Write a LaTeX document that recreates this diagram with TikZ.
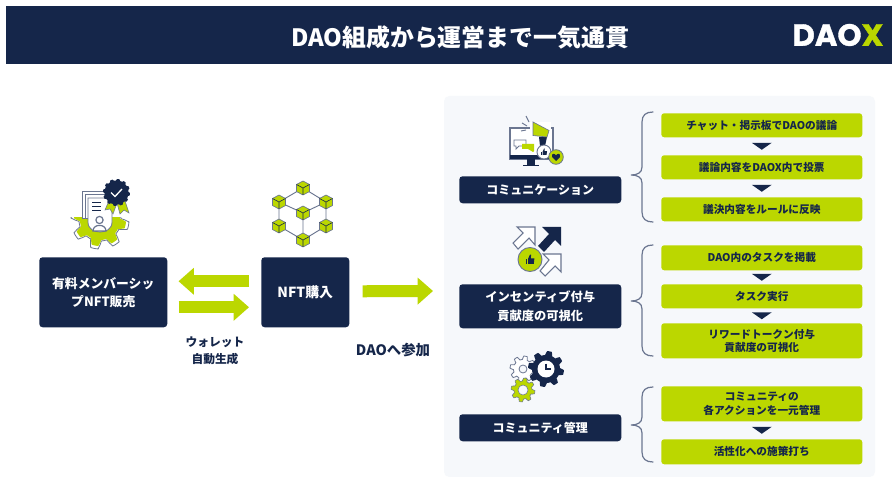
\documentclass[tikz,border=0pt]{standalone}
\usepackage{fontspec}
\setmainfont{Noto Sans CJK JP}
\newfontfamily\logofont[BoldFeatures={FakeBold=1.2}]{Poppins}
\usetikzlibrary{arrows.meta,calc}
\definecolor{navy}{HTML}{15264A}
\definecolor{lime}{HTML}{BBD700}
\definecolor{panelbg}{HTML}{F6F8FB}
\definecolor{edgegrey}{HTML}{6B7690}
\tikzset{
  x=0.75pt,y=-0.75pt,
  darkbox/.style={fill=navy,rounded corners=2.5pt,text=white,font=\bfseries,align=center,inner sep=0pt,anchor=north west},
  limebox/.style={fill=lime,rounded corners=2.2pt,text=navy,font=\bfseries\fontsize{8}{10.2}\selectfont,align=center,inner sep=0pt,anchor=north west,minimum width=150.75pt},
  blockarrow/.style={draw=lime,line width=9pt,-{Triangle[length=11.5pt,width=19.5pt,fill=lime]}},
  capt/.style={text=navy,font=\bfseries\fontsize{8.8}{13}\selectfont,align=center,inner sep=0pt},
  bracket/.style={draw=edgegrey,line width=0.9pt,line cap=round},
  iconline/.style={draw=edgegrey,line width=0.6pt},
  link/.style={draw=edgegrey,line width=0.7pt}
}
\newcommand{\boxat}[6]{\node[#1,minimum width=#4*0.75pt,minimum height=#5*0.75pt] (#2) at (#3) {#6};}
\newcommand{\tridown}[2]{\path ($(#1.south)!.5!(#2.north)$) coordinate (tm);
  \fill[navy] ($(tm)+(-10,-3.5)$) -- ($(tm)+(10,-3.5)$) -- ($(tm)+(0,3.5)$) -- cycle;}
\newcommand{\bracketpath}[3]{\draw[bracket] (653,#1) .. controls (646,#1) and (642,#1+3) .. (642,#1+10) -- (642,#2-8) .. controls (642,#2-2) and (637,#2) .. (631,#2) .. controls (637,#2) and (642,#2+2) .. (642,#2+8) -- (642,#3-10) .. controls (642,#3-3) and (646,#3) .. (653,#3);}
% gear: cx cy ro ri teeth drawopts
\newcommand{\gearshape}[6]{\path[#6] plot[domain=0:360,samples=#5*12+1,variable=\t] ({#1+(#4+(#3-#4)*(0.5+0.5*max(-1,min(1,2.5*sin(#5*\t)))))*cos(\t)},{#2+(#4+(#3-#4)*(0.5+0.5*max(-1,min(1,2.5*sin(#5*\t)))))*sin(\t)}) -- cycle;}
\newcommand{\thumb}[3]{\begin{scope}[shift={(#1,#2)},scale=#3]
  \fill[navy] (-4,-0.5) rectangle (-2.4,4);
  \fill[navy] (-1.8,-0.5) -- (0,-4.5) -- (1,-4.5) -- (0.8,-1) -- (4,-1) -- (3.4,4) -- (-1.8,4) -- cycle;
\end{scope}}
\newcommand{\cube}[2]{\begin{scope}[shift={(#1,#2)}]
  \filldraw[fill=lime,draw=edgegrey,line width=0.5pt] (0,-7) -- (6.5,-3.5) -- (6.5,3.5) -- (0,7) -- (-6.5,3.5) -- (-6.5,-3.5) -- cycle;
  \draw[navy,line width=0.45pt] (-6.5,-3.5) -- (0,0) -- (6.5,-3.5) (0,0) -- (0,7);
\end{scope}}
\begin{document}
\begin{tikzpicture}
\useasboundingbox (0,0) rectangle (892,477);
\fill[white] (0,0) rectangle (892,477);
% header
\fill[navy] (6,6) rectangle (892,64);
\node[text=white,font=\bfseries\fontsize{17.9}{20}\selectfont,inner sep=0pt] (title) at (460,37) {DAO組成から運営まで一気通貫};
\node[text=white,font=\logofont\bfseries\fontsize{23}{24}\selectfont,inner sep=0pt,anchor=center] (logo) at (838,35) {DAO\textcolor{lime}{X}};
% panel
\fill[panelbg,rounded corners=4pt] (444,96) rectangle (875,477);
% left boxes
\boxat{darkbox,font=\bfseries\fontsize{9.6}{13.5}\selectfont}{sale}{39,257}{128}{70}{有料メンバーシッ\\プNFT販売}
\boxat{darkbox,font=\bfseries\fontsize{10.4}{15}\selectfont}{nft}{261,257}{88}{70}{NFT購入}
\draw[blockarrow] ([xshift=-9pt,yshift=8.25pt]nft.west) -- ([xshift=8.25pt,yshift=8.25pt]sale.east);
\draw[blockarrow] ([xshift=8.25pt,yshift=-11.25pt]sale.east) -- ([xshift=-9pt,yshift=-11.25pt]nft.west);
\node[capt] (wallet) at (215,351) {ウォレット\\自動生成};
\coordinate (jointip) at (433,291);
\draw[blockarrow] ([xshift=9.75pt,yshift=0.75pt]nft.east) -- (jointip);
\node[capt,font=\bfseries\fontsize{10.8}{13}\selectfont] (join) at (393,350) {DAOへ参加};
% right label boxes
\boxat{darkbox,font=\bfseries\fontsize{9}{14}\selectfont}{comm}{459,176}{162}{27}{コミュニケーション}
\boxat{darkbox,font=\bfseries\fontsize{9.2}{14.5}\selectfont}{incent}{459,284}{162}{44}{インセンティブ付与\\貢献度の可視化}
\boxat{darkbox,font=\bfseries\fontsize{9}{14}\selectfont}{manage}{459,414}{162}{27}{コミュニティ管理}
% brackets
\bracketpath{112}{175}{222}
\bracketpath{245}{301}{356}
\bracketpath{387}{425}{462}
% lime boxes
\boxat{limebox}{a1}{661,113}{201}{24}{チャット・掲示板でDAOの議論}
\boxat{limebox}{a2}{661,155}{201}{24}{議論内容をDAOX内で投票}
\boxat{limebox}{a3}{661,197}{201}{24}{議決内容をルールに反映}
\boxat{limebox}{b1}{661,245}{201}{25}{DAO内のタスクを掲載}
\boxat{limebox}{b2}{661,284}{201}{24}{タスク実行}
\boxat{limebox}{b3}{661,323}{201}{35}{リワードトークン付与\\貢献度の可視化}
\boxat{limebox}{c1}{661,386}{201}{35}{コミュニティの\\各アクションを一元管理}
\boxat{limebox}{c2}{661,439}{201}{25}{活性化への施策打ち}
\tridown{a1}{a2}\tridown{a2}{a3}
\tridown{b1}{b2}\tridown{b2}{b3}
\tridown{c1}{c2}
% certificate icon
\begin{scope}
  \clip (60,218) rectangle (140,250);
  \gearshape{100}{220}{29}{21}{8}{fill=white,draw=edgegrey,line width=0.6pt}
  \gearshape{100}{220}{26}{20}{8}{fill=lime}
\end{scope}
\draw[iconline,fill=white] (82,191) rectangle (106,218);
\draw[iconline,fill=white] (85,194) rectangle (108,218);
\draw[iconline,fill=white] (88,198) -- (112,198) -- (112,222) .. controls (112,229) and (106,232) .. (100,232) .. controls (94,232) and (88,229) .. (88,222) -- cycle;
\draw[navy,line width=0.6pt] (92,202) -- (101,202) (92,206) -- (101,206) (92,210) -- (101,210);
\draw[edgegrey,line width=0.9pt,fill=white] (99.5,220) circle (3.6);
\draw[edgegrey,line width=0.9pt,fill=white] (93,231) .. controls (93,223.5) and (106,223.5) .. (106,231) -- cycle;
\filldraw[fill=lime,draw=edgegrey,line width=0.4pt] (108,203) -- (117,203) -- (113,214) -- (110,209) -- (105,210) -- cycle;
\filldraw[fill=lime,draw=edgegrey,line width=0.4pt] (117,203) -- (125,201) -- (129,213) -- (124,210) -- (120,214) -- cycle;
\gearshape{116.5}{192.5}{13.5}{12}{12}{fill=navy}
\draw[white,line width=1pt] (111,192.5) -- (115,196.5) -- (122,189);
% network icon
\path coordinate (n1) at (303,188) coordinate (n2) at (279,202) coordinate (n3) at (326,202)
  coordinate (n4) at (303,213) coordinate (n5) at (279,226) coordinate (n6) at (326,226) coordinate (n7) at (303,240);
\draw[link] (n1)--(n2)--(n5)--(n7)--(n6)--(n3)--(n1) (n2)--(n4)--(n3) (n4)--(n7);
\cube{303}{188}\cube{279}{202}\cube{326}{202}\cube{303}{213}\cube{279}{226}\cube{326}{226}\cube{303}{240}
% monitor icon
\draw[iconline,line width=0.8pt,fill=white] (510,128) rectangle (553,159);
\fill[navy] (510,155) rectangle (553,159);
\fill[navy] (527,159) rectangle (535,165);
\fill[navy] (523,165) rectangle (539,166.5);
\fill[white] (530,122) rectangle (551,140);
\fill[navy] (539,137) -- (547,137) -- (545,146) -- (540,146) -- cycle;
\filldraw[fill=lime,draw=edgegrey,line width=0.5pt] (533,122) -- (549,130.5) -- (547,137) -- (533,135.5) -- cycle;
\draw[edgegrey,line width=0.7pt] (529,122) -- (526,116) (527,126) -- (522,123) (526,130) -- (521,131);
\draw[iconline,fill=white] (514,140) -- (526,140) -- (526,146) -- (519,146) -- (516,149) -- (516,146) -- (514,146) -- cycle;
\fill[lime] (522,144) -- (534,144) -- (534,151) -- (533,152) -- (528,149) -- (522,149) -- cycle;
\filldraw[fill=white,draw=edgegrey,line width=0.7pt] (544,152) circle (7);
\thumb{544}{152}{0.75}
\filldraw[fill=lime,draw=edgegrey,line width=0.6pt] (556,157) circle (7.3);
\fill[navy] (556,161) -- (552,157) .. controls (551,153) and (555,153) .. (556,155.5) .. controls (557,153) and (561,153) .. (560,157) -- cycle;
% incentive icon
\draw[iconline,line width=0.8pt,fill=white] (535,227) -- (535,245) -- (529,238) -- (518,249) -- (513,243) -- (523,233) -- (517,227) -- cycle;
\fill[navy] (561,227) -- (561,246) -- (555,240) -- (544,252) -- (538,246) -- (549,234) -- (542,227) -- cycle;
\draw[iconline,line width=0.8pt,fill=white] (561,254) -- (561,272) -- (555,266) -- (545,276) -- (540,271) -- (549,260) -- (543,254) -- cycle;
\filldraw[fill=lime,draw=edgegrey,line width=0.7pt] (530,259.5) circle (12);
\thumb{530}{259.5}{1.1}
% gears icon
\gearshape{523}{369}{13}{9.5}{8}{fill=white,draw=edgegrey,line width=0.6pt}
\filldraw[fill=panelbg,draw=edgegrey,line width=0.6pt] (523,369) circle (4);
\gearshape{546}{369}{18}{14}{8}{fill=navy}
\fill[white] (546,369) circle (8.5);
\draw[navy,line width=0.8pt] (546,363.5) -- (546,369) -- (551,369);
\gearshape{523}{390}{12}{9}{8}{fill=lime,draw=edgegrey,line width=0.4pt}
\filldraw[fill=panelbg,draw=edgegrey,line width=0.4pt] (523,390) circle (5);
\end{tikzpicture}
\end{document}
